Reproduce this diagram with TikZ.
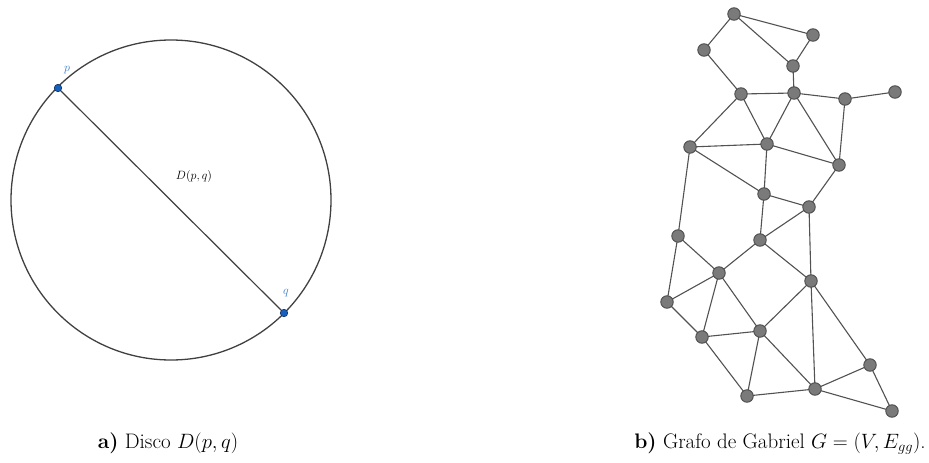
\documentclass[tikz,border=0pt]{standalone}
\usepackage{amsmath}
\definecolor{ptfill}{RGB}{21,96,189}
\definecolor{ptdraw}{RGB}{15,50,100}
\definecolor{lblblue}{RGB}{60,125,200}
\begin{document}
\begin{tikzpicture}[x=1pt,y=-1pt,
  vtx/.style={circle,fill=black!52,draw=black!70,line width=0.9pt,minimum size=12.5pt,inner sep=0pt},
  edge/.style={draw=black!68,line width=1.1pt},
  pt/.style={circle,fill=ptfill,draw=ptdraw,line width=0.6pt,minimum size=7.5pt,inner sep=0pt},
  lbl/.style={text=lblblue,font=\fontsize{12.5}{14}\selectfont},
  captext/.style={font=\fontsize{21}{24}\selectfont,anchor=base}]
\useasboundingbox (0,0) rectangle (929,463);
% disk
\coordinate (c) at (171,200);
\draw[black!75,line width=1.3pt] (c) circle[radius=160];
\node[pt] (p) at (58,88) {};
\node[pt] (q) at (284,313) {};
\draw[black!75,line width=1.2pt] (p) -- (q);
\node[lbl] (lp) at (67,70) {$p$};
\node[lbl] (lq) at (286,293) {$q$};
\node[font=\fontsize{13}{15}\selectfont] (dl) at (194,176) {$D(p,q)$};
% graph
\foreach \n/\x/\y in {1/734/14,2/813/35,3/704/50,4/793/66,5/741/94,6/794/93,7/845/99,8/895/92,
  9/690/147,10/767/144,11/839/165,12/764/194,13/809/207,14/678/236,15/760/240,16/719/273,
  17/667/302,18/811/281,19/702/337,20/760/331,21/870/365,22/747/396,23/815/389,24/892/411}
  \coordinate (c\n) at (\x,\y);
\foreach \a/\b in {1/2,1/3,1/4,2/4,3/5,4/6,5/6,6/7,7/8,5/9,5/10,6/10,6/11,7/11,9/10,9/14,9/12,
  10/11,10/12,12/15,11/13,12/13,13/15,13/18,14/16,14/17,15/16,15/18,16/17,16/19,16/20,17/19,
  18/20,18/23,18/21,19/20,19/22,20/22,20/23,22/23,21/23,23/24,21/24}
  \draw[edge] (c\a) -- (c\b);
\foreach \n in {1,...,24} \node[vtx] (v\n) at (c\n) {};
% captions
\node[captext] (ca) at (168,448) {\textbf{a)} Disco $D(p,q)$};
\node[captext] (cb) at (780,448) {\textbf{b)} Grafo de Gabriel $G=(V,E_{gg})$.};
\end{tikzpicture}
\end{document}
